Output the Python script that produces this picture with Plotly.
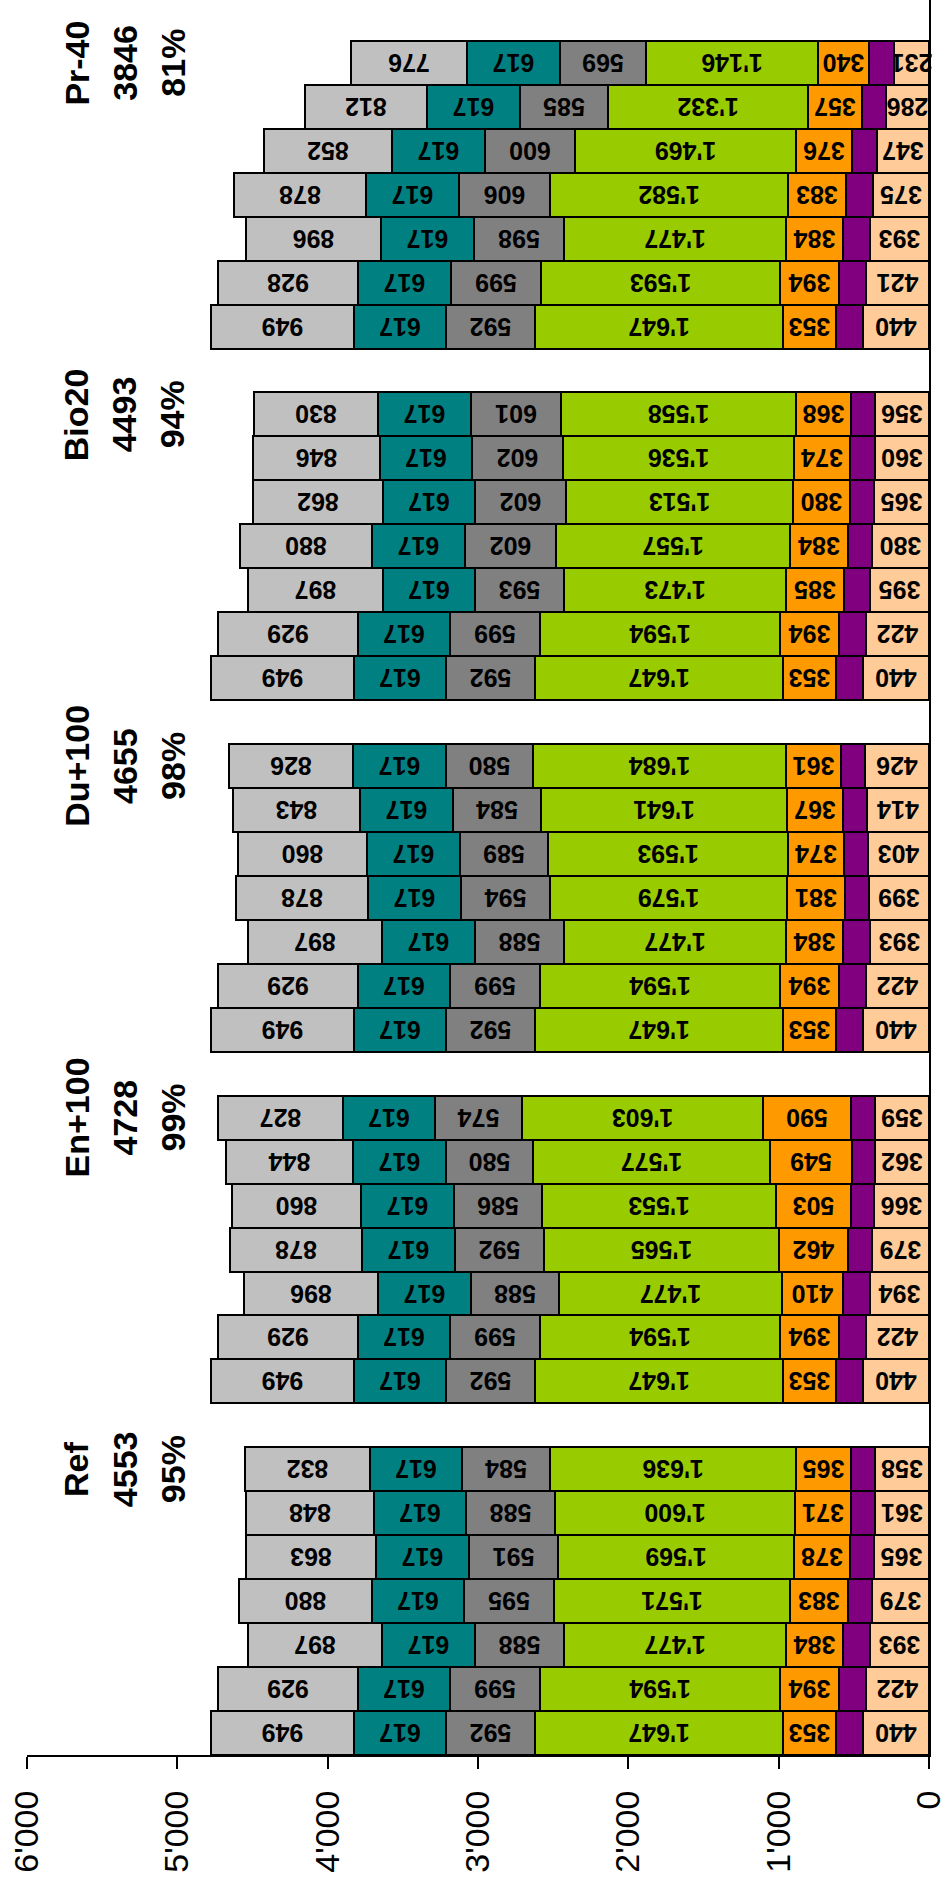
import plotly.graph_objects as go

# ---------------- data ----------------
groups = ["Ref", "En+100", "Du+100", "Bio20", "Pr-40"]
group_totals = ["4553", "4728", "4655", "4493", "3846"]
group_pcts = ["95%", "99%", "98%", "94%", "81%"]

# seven bars per group (bottom to top), groups in order above
peach = [440, 422, 393, 379, 365, 361, 358,
         440, 422, 394, 379, 366, 362, 359,
         440, 422, 393, 399, 403, 414, 426,
         440, 422, 395, 380, 365, 360, 356,
         440, 421, 393, 375, 347, 286, 231]
purple = [178, 175, 177, 162, 158, 157, 161,
          178, 175, 177, 157, 152, 148, 158,
          178, 175, 177, 163, 162, 161, 161,
          178, 175, 172, 162, 158, 165, 163,
          178, 175, 177, 180, 162, 163, 167]
orange = [353, 394, 384, 383, 378, 371, 365,
          353, 394, 410, 462, 503, 549, 590,
          353, 394, 384, 381, 374, 367, 361,
          353, 394, 385, 384, 380, 374, 368,
          353, 394, 384, 383, 376, 357, 340]
green = [1647, 1594, 1477, 1571, 1569, 1600, 1636,
         1647, 1594, 1477, 1565, 1553, 1577, 1603,
         1647, 1594, 1477, 1579, 1593, 1641, 1684,
         1647, 1594, 1473, 1557, 1513, 1536, 1558,
         1647, 1593, 1477, 1582, 1469, 1332, 1146]
gray = [592, 599, 588, 595, 591, 588, 584,
        592, 599, 588, 592, 586, 580, 574,
        592, 599, 588, 594, 589, 584, 580,
        592, 599, 593, 602, 602, 602, 601,
        592, 599, 598, 606, 600, 585, 569]
teal = [617] * 35
lightgray = [949, 929, 897, 880, 863, 848, 832,
             949, 929, 896, 878, 860, 844, 827,
             949, 929, 897, 878, 860, 843, 826,
             949, 929, 897, 880, 862, 846, 830,
             949, 928, 896, 878, 852, 812, 776]

tick_vals = [0, 1000, 2000, 3000, 4000, 5000, 6000]
tick_text = ["0", "1'000", "2'000", "3'000", "4'000", "5'000", "6'000"]

# ---------------- layout helpers ----------------
BARS = 7
SLOT = 8  # 7 bars + 1 gap
ypos = [g * SLOT + b + 0.5 for g in range(len(groups)) for b in range(BARS)]


def fmt(v):
    return f"{v:,}".replace(",", "'")


series = [
    (peach, "#FFCC99", True),
    (purple, "#800080", False),
    (orange, "#FF9900", True),
    (green, "#99CC00", True),
    (gray, "#808080", True),
    (teal, "#008080", True),
    (lightgray, "#C0C0C0", True),
]

FONT = "Liberation Sans, Arial, Helvetica, sans-serif"

fig = go.Figure()
for vals, col, labelled in series:
    fig.add_trace(go.Bar(
        x=vals, y=ypos, orientation="h", width=1,
        marker=dict(color=col, line=dict(color="black", width=2)),
        text=[fmt(v) for v in vals] if labelled else None,
        textposition="inside" if labelled else "none",
        insidetextanchor="middle",
        textangle=180,
        textfont=dict(family=FONT, size=25, color="black", weight="bold"),
        hoverinfo="skip",
        showlegend=False,
        cliponaxis=False,
    ))

# group labels (rotated, three lines each)
line_x = [5669, 5349, 5030]
for g, name in enumerate(groups):
    yl = g * SLOT + 6.5
    for i, txt in enumerate([name, group_totals[g], group_pcts[g]]):
        fig.add_annotation(
            x=line_x[i], y=yl, xref="x", yref="y",
            text=f"<b>{txt}</b>", showarrow=False, textangle=-90,
            font=dict(family=FONT, size=34, color="black"),
            xanchor="center", yanchor="middle",
        )

fig.update_layout(
    width=943, height=1881,
    margin=dict(l=27, r=14, t=0, b=126, autoexpand=False),
    barmode="stack", bargap=0,
    paper_bgcolor="white", plot_bgcolor="white",
    uniformtext=dict(mode="show", minsize=25),
    font=dict(family=FONT, color="black"),
)
fig.update_xaxes(
    range=[6000, 0], tickvals=tick_vals, ticktext=tick_text,
    tickangle=-90, tickfont=dict(family=FONT, size=34, color="black"),
    ticks="outside", ticklen=12, tickwidth=2, tickcolor="black",
    showline=True, linecolor="black", linewidth=2,
    showgrid=False, zeroline=False, ticklabelstandoff=8,
    ticklabeloverflow="allow",
)
fig.update_yaxes(
    range=[0, 39.93], showticklabels=False, ticks="",
    showline=True, linecolor="black", linewidth=2, side="right",
    showgrid=False, zeroline=False,
)

fig.write_html(
    "out.html",
    config={"displayModeBar": False},
    post_script="document.body.style.margin='0';document.body.style.padding='0';"
                "document.documentElement.style.overflow='hidden';",
)
